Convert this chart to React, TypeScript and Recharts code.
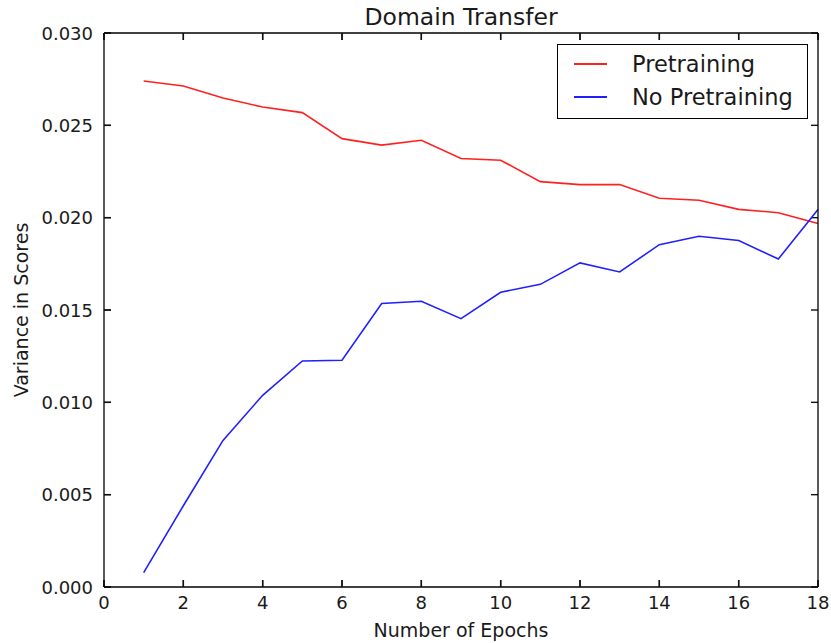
import { Legend, Line, LineChart, ReferenceLine, XAxis, YAxis } from "recharts";

const epochs = [1, 2, 3, 4, 5, 6, 7, 8, 9, 10, 11, 12, 13, 14, 15, 16, 17, 18];
const pretraining = [
  0.0274, 0.02713, 0.02648, 0.02599, 0.02569, 0.02428, 0.02393, 0.02419, 0.0232,
  0.02311, 0.02195, 0.02179, 0.02179, 0.02105, 0.02094, 0.02045, 0.02027, 0.01968,
];
const noPretraining = [
  0.00078, 0.0044, 0.00794, 0.01038, 0.01224, 0.01228, 0.01535, 0.01547, 0.01453,
  0.01596, 0.01639, 0.01755, 0.01706, 0.01854, 0.01899, 0.01876, 0.01776, 0.02044,
];
const xTicks = [0, 2, 4, 6, 8, 10, 12, 14, 16, 18];
const yTicks = [0, 0.005, 0.01, 0.015, 0.02, 0.025, 0.03];

const SERIES = [
  { key: "pretraining", label: "Pretraining", color: "#ff2020" },
  { key: "noPretraining", label: "No Pretraining", color: "#2020ff" },
];

const data = epochs.map((epoch, i) => ({
  epoch,
  pretraining: pretraining[i],
  noPretraining: noPretraining[i],
}));

const FONT = "'DejaVu Sans', sans-serif";
const INK = "#1a1a1a";
const X_MAX = 18;
const Y_MAX = 0.03;
const TICK_LEN = 7;
// same tick length in data units of the 714x554 plot
const X_TICK = (TICK_LEN * X_MAX) / 714;
const Y_TICK = (TICK_LEN * Y_MAX) / 554;

type TickProps = { x: number; y: number; payload: { value: number } };

function BottomTick({ x, y, payload }: TickProps) {
  return (
    <g>
      <rect x={x - 0.7} y={y - TICK_LEN} width={1.4} height={TICK_LEN} fill="#111" />
      <text x={x} y={y + 22} textAnchor="middle" fill={INK} fontSize={18}>
        {payload.value}
      </text>
    </g>
  );
}

function LeftTick({ x, y, payload }: TickProps) {
  return (
    <g>
      <rect x={x} y={y - 0.7} width={TICK_LEN} height={1.4} fill="#111" />
      <text x={x - 11} y={y + 6.5} textAnchor="end" fill={INK} fontSize={18}>
        {payload.value.toFixed(3)}
      </text>
    </g>
  );
}

function TopTick({ x, y }: TickProps) {
  return <rect x={x - 0.7} y={y} width={1.4} height={TICK_LEN} fill="#111" />;
}

function RightTick({ x, y }: TickProps) {
  return <rect x={x - TICK_LEN} y={y - 0.7} width={TICK_LEN} height={1.4} fill="#111" />;
}

function LegendBox() {
  return (
    <div
      style={{
        boxSizing: "border-box",
        width: 251,
        height: 75,
        border: "1.3px solid #000",
        background: "#fff",
        padding: "2px 0 0 16px",
        fontFamily: FONT,
        fontSize: 22.5,
        color: INK,
      }}
    >
      {SERIES.map((s) => (
        <div
          key={s.key}
          style={{ display: "flex", alignItems: "center", height: 33.5 }}
        >
          <div style={{ width: 33, height: 2, background: s.color }} />
          <span style={{ marginLeft: 25 }}>{s.label}</span>
        </div>
      ))}
    </div>
  );
}

export default function App() {
  return (
    <div style={{ position: "absolute", left: 0, top: 0, background: "#fff" }}>
      <LineChart
        width={831}
        height={643}
        data={data}
        margin={{ top: 32, right: 12, bottom: 0, left: 0 }}
        style={{ fontFamily: FONT }}
      >
        <XAxis
          dataKey="epoch"
          type="number"
          domain={[0, X_MAX]}
          ticks={xTicks}
          height={56}
          tickSize={0}
          tickMargin={0}
          tickLine={false}
          interval={0}
          stroke="#000"
          strokeWidth={1.3}
          tick={BottomTick}
          label={{
            value: "Number of Epochs",
            position: "insideBottom",
            offset: 6,
            fill: INK,
            fontSize: 19,
          }}
        />
        <XAxis
          xAxisId="top"
          dataKey="epoch"
          orientation="top"
          type="number"
          domain={[0, X_MAX]}
          ticks={xTicks}
          height={1}
          tickSize={0}
          tickMargin={0}
          tickLine={false}
          tick={TopTick}
          interval={0}
          stroke="#000"
          strokeWidth={1.3}
          label={{
            value: "Domain Transfer",
            position: "top",
            offset: 7,
            fill: INK,
            fontSize: 23.5,
          }}
        />
        <YAxis
          type="number"
          domain={[0, Y_MAX]}
          ticks={yTicks}
          width={104}
          tickSize={0}
          tickMargin={0}
          tickLine={false}
          interval={0}
          stroke="#000"
          strokeWidth={1.3}
          tick={LeftTick}
          label={{
            value: "Variance in Scores",
            angle: -90,
            position: "insideLeft",
            offset: 21,
            fill: INK,
            fontSize: 19,
            style: { textAnchor: "middle" },
          }}
        />
        <YAxis
          yAxisId="right"
          orientation="right"
          type="number"
          domain={[0, Y_MAX]}
          ticks={yTicks}
          width={1}
          tickSize={0}
          tickMargin={0}
          tickLine={false}
          tick={RightTick}
          interval={0}
          stroke="#000"
          strokeWidth={1.3}
        />
        {xTicks.map((t) => (
          <ReferenceLine
            key={`xb-${t}`}
            ifOverflow="visible"
            segment={[{ x: t, y: 0 }, { x: t, y: Y_TICK }]}
            stroke="#111"
            strokeWidth={1.4}
          />
        ))}
        {xTicks.map((t) => (
          <ReferenceLine
            key={`xt-${t}`}
            ifOverflow="visible"
            segment={[{ x: t, y: Y_MAX }, { x: t, y: Y_MAX - Y_TICK }]}
            stroke="#111"
            strokeWidth={1.4}
          />
        ))}
        {yTicks.map((t) => (
          <ReferenceLine
            key={`yl-${t}`}
            ifOverflow="visible"
            segment={[{ x: 0, y: t }, { x: X_TICK, y: t }]}
            stroke="#111"
            strokeWidth={1.4}
          />
        ))}
        {yTicks.map((t) => (
          <ReferenceLine
            key={`yr-${t}`}
            ifOverflow="visible"
            segment={[{ x: X_MAX, y: t }, { x: X_MAX - X_TICK, y: t }]}
            stroke="#111"
            strokeWidth={1.4}
          />
        ))}
        <Legend
          layout="horizontal"
          verticalAlign="middle"
          align="center"
          content={() => <LegendBox />}
          wrapperStyle={{ left: 557, top: 44, width: 251, height: 75 }}
        />
        {SERIES.map((s) => (
          <Line
            key={s.key}
            type="linear"
            dataKey={s.key}
            name={s.label}
            stroke={s.color}
            strokeWidth={1.6}
            dot={false}
            activeDot={false}
            isAnimationActive={false}
          />
        ))}
      </LineChart>
    </div>
  );
}
